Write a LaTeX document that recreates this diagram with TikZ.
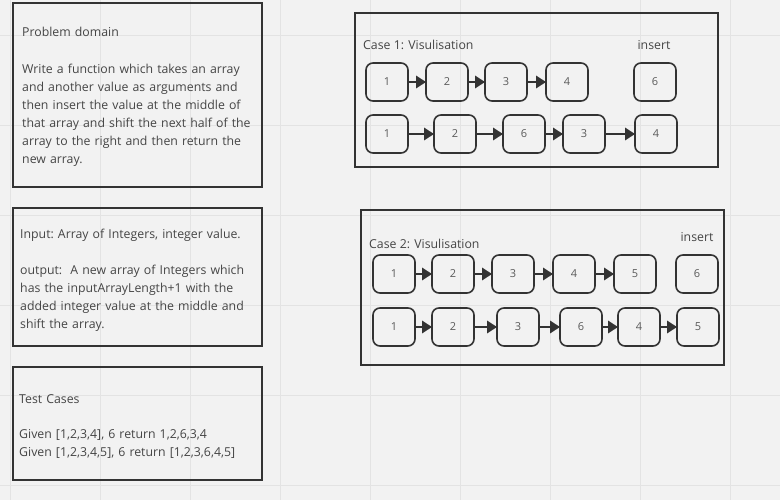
\documentclass[tikz,border=0pt]{standalone}
\usepackage{fontspec}
\setmainfont{Open Sans}
\usepackage{tikz}
\usetikzlibrary{positioning,arrows.meta}
\definecolor{paper}{HTML}{F2F2F2}
\definecolor{gridline}{HTML}{E3E3E3}
\definecolor{ink}{HTML}{333333}
\definecolor{note}{HTML}{454545}
\definecolor{digit}{HTML}{5A5A5A}
\tikzset{
  frame/.style={draw=ink, line width=1.6pt},
  cell/.style={draw=ink, line width=1.6pt, rounded corners=7pt, minimum width=42pt, minimum height=38pt, inner sep=0pt, outer sep=0pt, text=digit, font=\fontsize{11}{12}\selectfont},
  link/.style={draw=ink, line width=1.8pt, -{Triangle[length=10pt,width=12.5pt]}},
  para/.style={anchor=base west, inner sep=0pt, text width=245pt, align=left, text=note, font=\fontsize{12.3}{18}\selectfont\frenchspacing},
  caption/.style={anchor=base, inner sep=0pt, text=note, font=\fontsize{12.3}{14}\selectfont}
}

\begin{document}
\begin{tikzpicture}[x=1pt,y=-1pt]
      \fill[paper] (0,0) rectangle (780,500);
      \useasboundingbox (0,0) rectangle (780,500);
      \foreach \gx in {10,100,...,730} \draw[gridline, line width=0.8pt] (\gx,0) -- (\gx,500);
      \foreach \gy in {35,125,...,485} \draw[gridline, line width=0.8pt] (0,\gy) -- (780,\gy);

      \draw[frame] (13,3) rectangle (262,187);
      \draw[frame] (13,208) rectangle (262,346);
      \draw[frame] (13,367) rectangle (262,480);
      \draw[frame] (355,13) rectangle (718,167);
      \draw[frame] (361,210) rectangle (724,365);

      \node[para] (domain) at (22,37) {Problem domain\\[18.5pt]Write a function which takes an array\\and another value as arguments and\\then insert the value at the middle of\\that array and shift the next half of the\\array to the right and then return the\\new array.};
      \node[para] (io) at (20,239) {Input: Array of Integers, integer value.\\[18pt]output:\ \ A new array of Integers which\\has the inputArrayLength+1 with the\\added integer value at the middle and\\shift the array.};
      \node[para] (tests) at (19,403) {Test Cases\\[17pt]Given [1,2,3,4], 6 return 1,2,6,3,4\\Given [1,2,3,4,5], 6 return [1,2,3,6,4,5]};

      \node[caption, anchor=base west] (case1) at (363,50) {Case 1: Visulisation};
      \node[cell] (a1) at (387,82) {1};
      \node[cell, right=18pt of a1] (a2) {2};
      \node[cell, right=17pt of a2] (a3) {3};
      \node[cell, right=19pt of a3] (a4) {4};
      \node[cell, right=46pt of a4] (new1) {6};
      \node[caption] (ins1) at (654,50) {insert};
      \node[cell, below=14pt of a1] (b1) {1};
      \node[cell, right=26pt of b1] (b2) {2};
      \node[cell, right=27pt of b2] (b3) {6};
      \node[cell, right=18pt of b3] (b4) {3};
      \node[cell, right=30pt of b4] (b5) {4};
      \draw[link] (a1) -- (a2);
      \draw[link] (a2) -- (a3);
      \draw[link] (a3) -- (a4);
      \draw[link] (b1) -- (b2);
      \draw[link] (b2) -- (b3);
      \draw[link] (b3) -- (b4);
      \draw[link] (b4) -- (b5);

      \node[caption, anchor=base west] (case2) at (369,248) {Case 2: Visulisation};
      \node[cell] (c1) at (394,274) {1};
      \node[cell, right=17pt of c1] (c2) {2};
      \node[cell, right=18pt of c2] (c3) {3};
      \node[cell, right=19pt of c3] (c4) {4};
      \node[cell, right=19pt of c4] (c5) {5};
      \node[cell, right=20pt of c5] (new2) {6};
      \node[caption] (ins2) at (697,242) {insert};
      \node[cell] (d1) at (394,327) {1};
      \node[cell, right=17pt of d1] (d2) {2};
      \node[cell, right=23pt of d2] (d3) {3};
      \node[cell, right=21pt of d3] (d4) {6};
      \node[cell, right=16pt of d4] (d5) {4};
      \node[cell, right=17pt of d5] (d6) {5};
      \draw[link] (c1) -- (c2);
      \draw[link] (c2) -- (c3);
      \draw[link] (c3) -- (c4);
      \draw[link] (c4) -- (c5);
      \draw[link] (d1) -- (d2);
      \draw[link] (d2) -- (d3);
      \draw[link] (d3) -- (d4);
      \draw[link] (d4) -- (d5);
      \draw[link] (d5) -- (d6);
\end{tikzpicture}
\end{document}
